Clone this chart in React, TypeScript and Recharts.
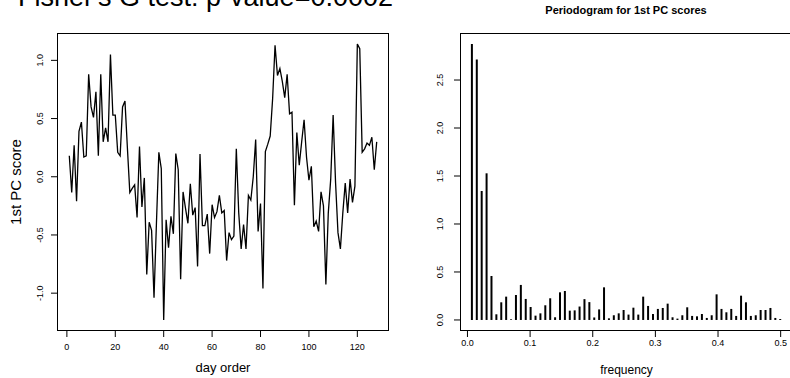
import { LineChart, Line, XAxis, YAxis, BarChart, Bar, Label } from 'recharts';

const FONT = '"Liberation Sans", Arial, sans-serif';

// 1st PC score by day (day order 1..128)
const pcScores = [
  0.18, -0.135, 0.27, -0.21, 0.39, 0.47, 0.17, 0.18, 0.88, 0.6,
  0.51, 0.73, 0.18, 0.88, 0.3, 0.42, 0.3, 1.05, 0.53, 0.53,
  0.21, 0.18, 0.6, 0.65, 0.25, -0.135, -0.1, -0.07, -0.35, 0.26,
  -0.26, -0.01, -0.84, -0.39, -0.46, -1.04, -0.4, 0.21, 0.07, -1.23,
  -0.37, -0.61, -0.34, -0.49, 0.2, 0.06, -0.88, -0.13, -0.27, -0.4,
  -0.06, -0.33, -0.265, -0.77, 0.195, -0.42, -0.42, -0.32, -0.66, -0.24,
  -0.35, -0.3, -0.16, -0.31, -0.29, -0.72, -0.48, -0.54, -0.51, 0.24,
  -0.31, -0.62, -0.41, -0.62, -0.16, -0.2, 0.0, 0.32, -0.47, -0.23,
  -0.96, 0.216, 0.28, 0.35, 0.67, 1.13, 0.87, 0.93, 0.82, 0.68,
  0.88, 0.54, 0.555, -0.245, 0.38, 0.1, 0.3, 0.49, 0.17, -0.03,
  0.09, -0.43, -0.38, -0.47, -0.13, -0.25, -0.925, -0.31, -0.02, 0.53,
  -0.05, -0.48, -0.62, -0.31, -0.055, -0.31, -0.02, -0.22, -0.08, 1.14,
  1.1, 0.21, 0.24, 0.29, 0.27, 0.34, 0.06, 0.3,
];

// periodogram ordinates at Fourier frequencies k/128, k = 1..64
const pgPower = [
  2.875, 2.715, 1.344, 1.528, 0.458, 0.059, 0.184, 0.243, 0.007, 0.26,
  0.365, 0.219, 0.135, 0.045, 0.069, 0.153, 0.226, 0.028, 0.288, 0.302,
  0.097, 0.1, 0.14, 0.217, 0.186, 0.026, 0.11, 0.34, 0.017, 0.049,
  0.069, 0.104, 0.056, 0.128, 0.056, 0.243, 0.146, 0.062, 0.115, 0.125,
  0.17, 0.028, 0.014, 0.049, 0.132, 0.042, 0.038, 0.062, 0.021, 0.049,
  0.267, 0.115, 0.08, 0.115, 0.042, 0.253, 0.184, 0.042, 0.049, 0.104,
  0.104, 0.125, 0.021, 0.01,
];

const nDays = pcScores.length;
const dayTicks = [0, 20, 40, 60, 80, 100, 120];
const scoreTicks = [-1, -0.5, 0, 0.5, 1];
const freqTicks = [0, 0.1, 0.2, 0.3, 0.4, 0.5];
const powerTicks = [0, 0.5, 1, 1.5, 2, 2.5];

const pcData = pcScores.map((score, i) => ({ day: i + 1, score }));
const pgData = pgPower.map((power, i) => ({ freq: (i + 1) / nDays, power }));

const txt = { fontFamily: FONT, fill: '#000' };

const xTick = (baseline: number, fmt: (v: number) => string) => (p: any) => (
  <text x={p.x} y={baseline} textAnchor="middle" fontSize={9} {...txt}>
    {fmt(p.payload.value)}
  </text>
);

const yTick = (base: number) => (p: any) => (
  <text x={base} y={p.y} textAnchor="middle" fontSize={9} transform={`rotate(-90, ${base}, ${p.y})`} {...txt}>
    {Number(p.payload.value).toFixed(1)}
  </text>
);

const frame = (left: number, top: number, width: number, height: number): React.CSSProperties => ({
  position: 'absolute', left, top, width, height, border: '1px solid #000',
  boxSizing: 'border-box', pointerEvents: 'none',
});

export default function App() {
  return (
    <div style={{ position: 'absolute', left: 0, top: 0, width: 790, height: 378, overflow: 'hidden', background: '#fff' }}>
      <svg width={790} height={24} style={{ position: 'absolute', left: 0, top: 0 }}>
        <text x={393} y={6} textAnchor="end" fontSize={27} {...txt}>Fisher's G test: p-value=0.0002</text>
        <text x={626} y={14} textAnchor="middle" fontSize={11} fontWeight="bold" {...txt}>Periodogram for 1st PC scores</text>
      </svg>

      <div style={{ position: 'absolute', left: 0, top: 0 }}>
        <LineChart width={400} height={378} data={pcData} margin={{ top: 33, right: 11, left: 0, bottom: 0 }}>
          <XAxis dataKey="day" type="number" domain={[-4.08, 133.08]} ticks={dayTicks} interval={0}
            allowDataOverflow height={47} axisLine={false} tickLine={{ stroke: '#000' }} tickSize={6}
            tick={xTick(350, v => String(v))}>
            <Label content={(p: any) => (
              <text x={p.viewBox.x + p.viewBox.width / 2} y={372} textAnchor="middle" fontSize={13} {...txt}>day order</text>
            )} />
          </XAxis>
          <YAxis type="number" domain={[-1.325, 1.235]} ticks={scoreTicks} interval={0} allowDataOverflow
            width={57} axisLine={false} tickLine={{ stroke: '#000' }} tickSize={6} tick={yTick(43)}>
            <Label content={(p: any) => {
              const cy = p.viewBox.y + p.viewBox.height / 2;
              return (
                <text x={21} y={cy} textAnchor="middle" fontSize={15} transform={`rotate(-90, 21, ${cy})`} {...txt}>1st PC score</text>
              );
            }} />
          </YAxis>
          <Line dataKey="score" type="linear" stroke="#000" strokeWidth={1.3} dot={false} isAnimationActive={false} />
        </LineChart>
      </div>
      <div style={frame(57, 33, 332, 298)} />

      <div style={{ position: 'absolute', left: 400, top: 0 }}>
        <BarChart width={393} height={378} data={pgData} margin={{ top: 33, right: 0, left: 0, bottom: 0 }}>
          <XAxis dataKey="freq" type="number" domain={[-0.0119, 0.5197]} ticks={freqTicks} interval={0}
            allowDataOverflow height={47} axisLine={false} tickLine={{ stroke: '#000' }} tickSize={6}
            tick={xTick(346, v => v.toFixed(1))}>
            <Label content={(p: any) => (
              <text x={p.viewBox.x + p.viewBox.width / 2} y={374} textAnchor="middle" fontSize={12} {...txt}>frequency</text>
            )} />
          </XAxis>
          <YAxis type="number" domain={[-0.115, 2.99]} ticks={powerTicks} interval={0} allowDataOverflow
            width={60} axisLine={false} tickLine={{ stroke: '#000' }} tickSize={6} tick={yTick(43)} />
          <Bar dataKey="power" fill="#000" barSize={2} isAnimationActive={false} />
        </BarChart>
      </div>
      <div style={frame(460, 33, 340, 298)} />
    </div>
  );
}
